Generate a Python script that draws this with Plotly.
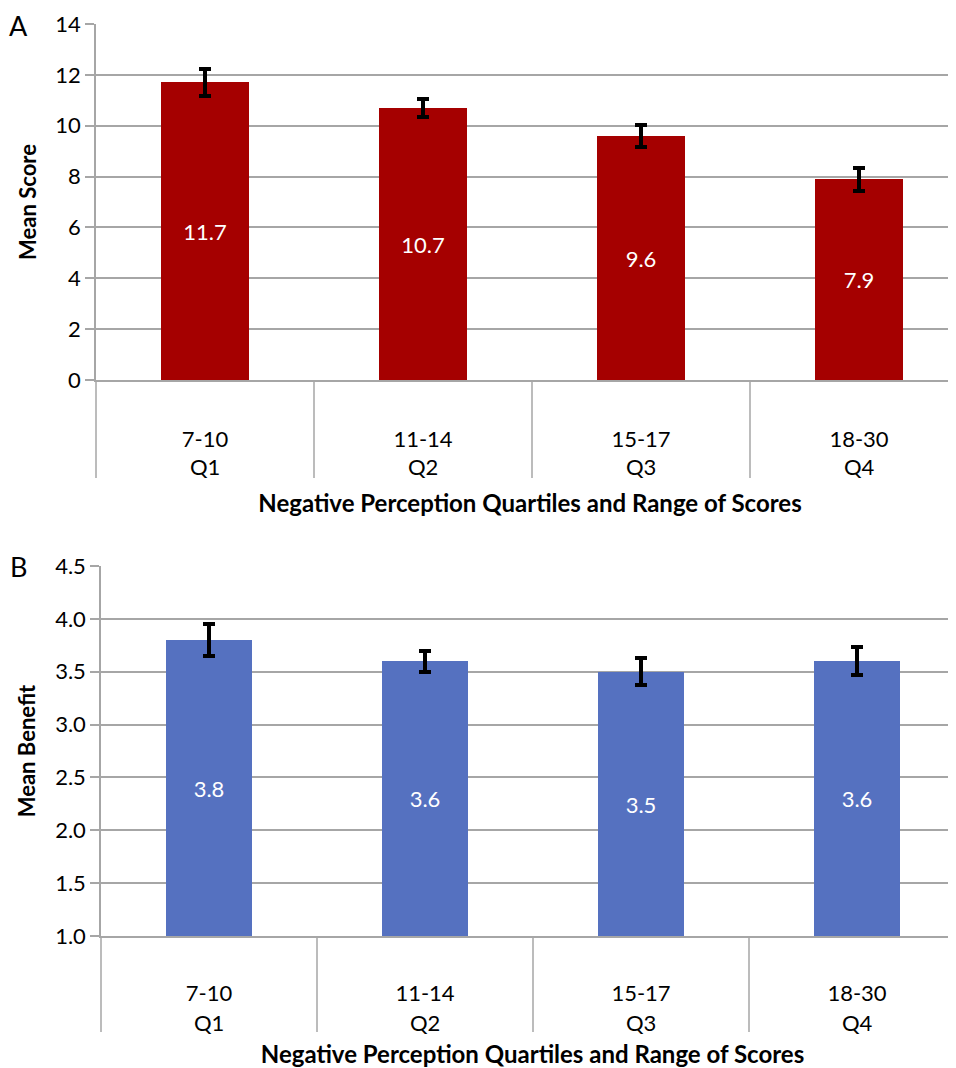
import plotly.graph_objects as go
from plotly.subplots import make_subplots

quartiles = ["Q1", "Q2", "Q3", "Q4"]
score_ranges = ["7-10", "11-14", "15-17", "18-30"]
mean_score = [11.7, 10.7, 9.6, 7.9]
mean_score_err = [0.53, 0.35, 0.43, 0.45]
mean_benefit = [3.8, 3.6, 3.5, 3.6]
mean_benefit_err = [0.15, 0.10, 0.13, 0.13]
benefit_axis_min = 1.0

FONT = "Lato"
GRID = "#a6a6a6"
RED = "#a50000"
BLUE = "#5571c0"
OFF = 8                      # page body margin
W, H = 956, 1068 - OFF
FS = 22

fig = make_subplots(rows=2, cols=1)
xpos = list(range(len(quartiles)))

fig.add_trace(go.Bar(
    x=xpos, y=mean_score, width=0.4, marker=dict(color=RED, line=dict(width=0)),
    text=[f"{v:.1f}" for v in mean_score], textposition="inside",
    insidetextanchor="middle", textfont=dict(color="white", size=FS, family=FONT),
    error_y=dict(type="data", array=mean_score_err, color="black", thickness=4, width=6),
    showlegend=False), row=1, col=1)

# bars drawn from the axis minimum (as in the original), labelled with their value
fig.add_trace(go.Bar(
    x=xpos, y=[v - benefit_axis_min for v in mean_benefit], base=benefit_axis_min,
    width=0.4, marker=dict(color=BLUE, line=dict(width=0)),
    text=[f"{v:.1f}" for v in mean_benefit], textposition="inside",
    insidetextanchor="middle", textfont=dict(color="white", size=FS, family=FONT),
    hovertext=[f"{v:.1f}" for v in mean_benefit], hoverinfo="text",
    error_y=dict(type="data", array=mean_benefit_err, color="black", thickness=4, width=6),
    showlegend=False), row=2, col=1)

top = dict(x0=96 - OFF, y0=24 - OFF, y1=380 - OFF, cat=218)
bot = dict(x0=101 - OFF, y0=566 - OFF, y1=936 - OFF, cat=216)

def ydom(p):
    return [1 - p["y1"] / H, 1 - p["y0"] / H]

def xrng(p):
    return [-0.5, -0.5 + (W - p["x0"]) / p["cat"]]

xcommon = dict(tickmode="array", tickvals=xpos, ticktext=score_ranges, ticks="",
               showline=True, linecolor=GRID, linewidth=1.5, showgrid=False,
               zeroline=False, automargin=False,
               tickfont=dict(family=FONT, size=FS, color="black"),
               title=dict(text="<b>Negative Perception Quartiles and Range of Scores</b>",
                          font=dict(family=FONT, size=24, color="black")))
ycommon = dict(showline=True, linecolor=GRID, linewidth=1.5, showgrid=True,
               gridcolor=GRID, gridwidth=1.5, ticks="outside", ticklen=9,
               tickcolor=GRID, tickwidth=1.5, zeroline=False, automargin=False,
               tickfont=dict(family=FONT, size=FS, color="black"))

# x domain right edge extends slightly past the visible window, like the original crop
fig.update_xaxes(**xcommon, domain=[top["x0"] / W, 1], range=xrng(top),
                 ticklabelstandoff=39, row=1, col=1)
fig.update_xaxes(**xcommon, domain=[bot["x0"] / W, 1], range=xrng(bot),
                 ticklabelstandoff=37, row=2, col=1)
fig.update_xaxes(title_standoff=44, row=1, col=1)
fig.update_xaxes(title_standoff=42, row=2, col=1)

fig.update_yaxes(**ycommon, domain=ydom(top), range=[0, 14], dtick=2,
                 title=dict(text="<b>Mean Score</b>", font=dict(family=FONT, size=FS, color="black"),
                            standoff=13), row=1, col=1)
fig.update_yaxes(**ycommon, domain=ydom(bot), range=[1, 4.5], dtick=0.5, tickformat=".1f",
                 title=dict(text="<b>Mean Benefit</b>", font=dict(family=FONT, size=FS, color="black"),
                            standoff=13), row=2, col=1)

shapes = []
annotations = []
for (xr, yr, p, qshift, dlen) in [("x", "y", top, -87, 98), ("x2", "y2", bot, -86, 96)]:
    ph = p["y1"] - p["y0"]
    shapes.append(dict(type="line", xref=xr + " domain", yref=yr + " domain",
                       x0=0, x1=0, y0=0, y1=-dlen / ph, line=dict(color=GRID, width=1.5)))
    for i in range(1, len(quartiles) + 1):
        shapes.append(dict(type="line", xref=xr, yref=yr + " domain",
                           x0=i - 0.5, x1=i - 0.5, y0=0, y1=-dlen / ph,
                           line=dict(color=GRID, width=1.5)))
    for i, q in enumerate(quartiles):
        annotations.append(dict(text=q, xref=xr, yref=yr + " domain", x=i, y=0,
                                yanchor="middle", xanchor="center", yshift=qshift,
                                showarrow=False, font=dict(family=FONT, size=FS, color="black")))

annotations.append(dict(text="A", xref="paper", yref="paper", x=(18 - OFF) / W, y=1 - (26 - OFF) / H,
                        xanchor="center", yanchor="middle", showarrow=False,
                        font=dict(family=FONT, size=27, color="black")))
annotations.append(dict(text="B", xref="paper", yref="paper", x=(18 - OFF) / W, y=1 - (566 - OFF) / H,
                        xanchor="center", yanchor="middle", showarrow=False,
                        font=dict(family=FONT, size=27, color="black")))

fig.update_layout(width=W, height=H, margin=dict(l=0, r=0, t=0, b=0, autoexpand=False),
                  paper_bgcolor="white", plot_bgcolor="white", bargap=0,
                  shapes=shapes, annotations=annotations,
                  font=dict(family=FONT, color="black"))

fig.write_html("out.html")
